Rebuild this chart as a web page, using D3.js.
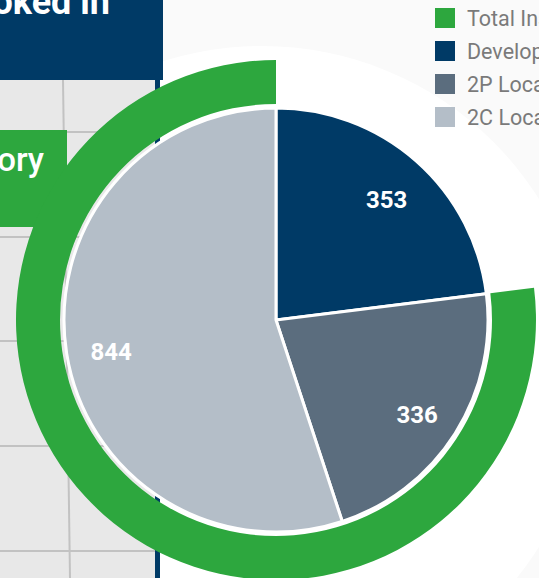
<!DOCTYPE html>
<html>
<head>
<meta charset="utf-8">
<script src="https://cdn.jsdelivr.net/npm/d3@7"></script>
<style>
  html, body { margin: 0; padding: 0; background: #fff; }
  svg { display: block; font-family: Roboto, "Noto Sans", sans-serif; }
</style>
</head>
<body>
<div id="chart"></div>
<script>
// inner pie
var categories = ["Developer Inspections", "2P Local Inspections", "2C Local Inspections"];
var values = [353, 336, 844];
var colors = ["#003a66", "#5b6d7e", "#b4bec8"];

// outer ring: total inspections, the first part is left open
var ringLabels = ["", "Total Inspections"];
var ringValues = [353, 1180];
var ringColors = ["none", "#2da73e"];

var legendLabels = ["Total Inspections", "Developer Inspections", "2P Local Inspections", "2C Local Inspections"];
var legendColors = ["#2da73e", "#003a66", "#5b6d7e", "#b4bec8"];

var w = 539, h = 578;
var cx = 276, cy = 320;
var r = 212;

var svg = d3.select("#chart").append("svg")
   .attr("width", w)
   .attr("height", h);

//Background: map on the left, pale panel on the right
svg.append("rect").attr("x", 0).attr("y", 0).attr("width", w).attr("height", h).attr("fill", "#fafafa");
svg.append("clipPath").attr("id", "rightClip")
   .append("rect").attr("x", 160).attr("y", 0).attr("width", w - 160).attr("height", h);
svg.append("circle")
   .attr("cx", 262).attr("cy", 373).attr("r", 327)
   .attr("fill", "#fff")
   .attr("clip-path", "url(#rightClip)");

svg.append("rect").attr("x", 0).attr("y", 80).attr("width", 156).attr("height", h - 80).attr("fill", "#e8e8e8");

var roadsY = [132, 237, 341, 446, 551];
svg.selectAll(".roadH")
   .data(roadsY)
   .enter()
   .append("line")
   .attr("class", "roadH")
   .attr("x1", 0).attr("x2", 156)
   .attr("y1", function(d) { return d; })
   .attr("y2", function(d) { return d; })
   .attr("stroke", "#c2c2c2")
   .attr("stroke-width", 2);
svg.append("line")
   .attr("x1", 63).attr("y1", 80).attr("x2", 70).attr("y2", h)
   .attr("stroke", "#c2c2c2").attr("stroke-width", 2);

svg.append("rect").attr("x", 155).attr("y", 80).attr("width", 5).attr("height", h - 80).attr("fill", "#003a66");

//Title box (cut off)
svg.append("rect").attr("x", 0).attr("y", 0).attr("width", 163).attr("height", 80).attr("fill", "#003a66");
svg.append("text")
   .attr("x", 110).attr("y", 14)
   .attr("text-anchor", "end")
   .attr("fill", "#fff")
   .attr("font-size", 36)
   .attr("font-weight", 700)
   .text("Inspections Booked in");

svg.append("rect").attr("x", 0).attr("y", 130).attr("width", 67).attr("height", 97).attr("fill", "#2da73e");
svg.append("text")
   .attr("x", 44).attr("y", 171)
   .attr("text-anchor", "end")
   .attr("fill", "#fff")
   .attr("font-size", 33)
   .attr("font-weight", 500)
   .text("Inspection Category");

var g = svg.append("g").attr("transform", "translate(" + cx + "," + cy + ")");

//Outer ring
var ringPie = d3.pie().sort(null).value(function(d) { return d; });
var ringArc = d3.arc().innerRadius(216).outerRadius(260);
g.selectAll(".ring")
   .data(ringPie(ringValues))
   .enter()
   .append("path")
   .attr("class", "ring")
   .attr("d", ringArc)
   .attr("fill", function(d, i) { return ringColors[i]; });

//Inner pie
var pie = d3.pie().sort(null).value(function(d) { return d; });
var arc = d3.arc().innerRadius(0).outerRadius(r);
var labelArc = d3.arc().innerRadius(0).outerRadius(334);
var slices = pie(values);

g.selectAll(".slice")
   .data(slices)
   .enter()
   .append("path")
   .attr("class", "slice")
   .attr("d", arc)
   .attr("fill", function(d, i) { return colors[i]; })
   .attr("stroke", "#fff")
   .attr("stroke-width", 3);

g.selectAll(".val")
   .data(slices)
   .enter()
   .append("text")
   .attr("class", "val")
   .attr("transform", function(d) { var c = labelArc.centroid(d); return "translate(" + c[0] + "," + c[1] + ")"; })
   .attr("text-anchor", "middle")
   .attr("dy", "0.55em")
   .attr("fill", "#fff")
   .attr("font-size", 24)
   .attr("font-weight", 700)
   .text(function(d) { return d.value; });

//Legend
var legend = svg.selectAll(".legend")
   .data(legendLabels)
   .enter()
   .append("g")
   .attr("class", "legend")
   .attr("transform", function(d, i) { return "translate(435," + (8 + i * 33) + ")"; });
legend.append("rect")
   .attr("width", 20).attr("height", 20)
   .attr("fill", function(d, i) { return legendColors[i]; });
legend.append("text")
   .attr("x", 32).attr("y", 18)
   .attr("fill", "#7a7a7a")
   .attr("font-size", 21.5)
   .text(function(d) { return d; });
</script>
</body>
</html>
